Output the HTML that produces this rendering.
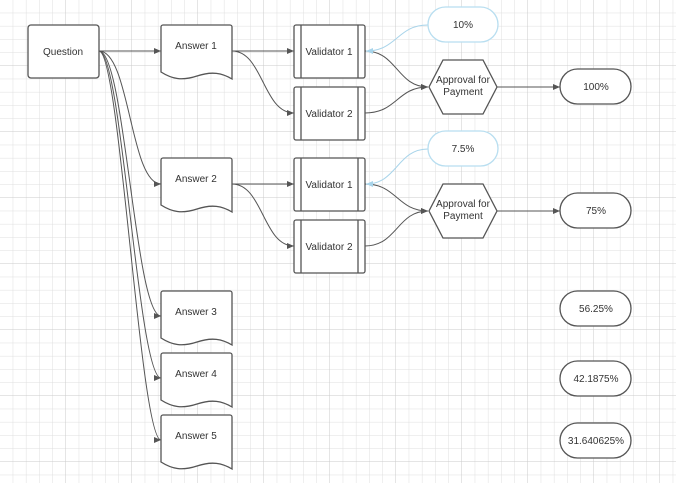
<!DOCTYPE html>
<html><head><style>
html,body{margin:0;padding:0;background:#fff}
svg text{font-family:"Liberation Sans",sans-serif;font-size:10px;fill:#333;text-anchor:middle}
</style></head><body>
<svg width="676" height="483" xmlns="http://www.w3.org/2000/svg">
<defs>
<pattern id="g" width="13.2" height="13.2" patternUnits="userSpaceOnUse"><path d="M13.2 0V13.2H0" fill="none" stroke="#dedede" stroke-width="1"/></pattern>
<pattern id="G" width="66" height="66" patternUnits="userSpaceOnUse" x="0" y="0"><path d="M66 0V66H0" fill="none" stroke="#cbcbcb" stroke-width="1"/></pattern>
<marker id="a" markerWidth="8" markerHeight="8" refX="7" refY="4" orient="auto" markerUnits="userSpaceOnUse"><path d="M0 1L7 4L0 7z" fill="#555"/></marker>
<marker id="b" markerWidth="8" markerHeight="8" refX="7" refY="4" orient="auto" markerUnits="userSpaceOnUse"><path d="M0 1L7 4L0 7z" fill="#a8d4ea"/></marker>
</defs>
<rect width="676" height="483" fill="url(#g)"/>
<rect width="676" height="483" fill="url(#G)"/>
<g fill="none" stroke="#555" stroke-width="1" marker-end="url(#a)">
<path d="M99 51H161"/>
<path d="M99 51C130 51 130 184 161 184"/>
<path d="M99 51C125 51 135 316 161 316"/>
<path d="M99 51C122 51 138 378 161 378"/>
<path d="M99 51C120 51 140 440 161 440"/>
<path d="M232 51H294"/><path d="M232 51C263 51 263 113 294 113"/>
<path d="M232 184H294"/><path d="M232 184C263 184 263 246 294 246"/>
<path d="M365 51C397 51 397 87 428 87"/><path d="M365 113C397 113 397 87 428 87"/>
<path d="M365 184C397 184 397 211 428 211"/><path d="M365 246C397 246 397 211 428 211"/>
<path d="M497 87H560"/><path d="M497 211H560"/>
</g>
<g fill="none" stroke="#a8d4ea" stroke-width="1" marker-end="url(#b)">
<path d="M428 25C397 25 397 51 366 51"/><path d="M428 149C397 149 397 184 366 184"/>
</g>
<g fill="#fff" stroke="#555" stroke-width="1.3">
<rect x="28" y="25" width="71" height="53" rx="3"/>
<path d="M161 27a2 2 0 0 1 2-2h67a2 2 0 0 1 2 2v52c-10-6-20-8-35-3s-25 3-36-4z"/>
<path d="M161 160a2 2 0 0 1 2-2h67a2 2 0 0 1 2 2v52c-10-6-20-8-35-3s-25 3-36-4z"/>
<path d="M161 293a2 2 0 0 1 2-2h67a2 2 0 0 1 2 2v52c-10-6-20-8-35-3s-25 3-36-4z"/>
<path d="M161 355a2 2 0 0 1 2-2h67a2 2 0 0 1 2 2v52c-10-6-20-8-35-3s-25 3-36-4z"/>
<path d="M161 417a2 2 0 0 1 2-2h67a2 2 0 0 1 2 2v52c-10-6-20-8-35-3s-25 3-36-4z"/>
<rect x="294" y="25" width="71" height="53" rx="2"/><rect x="294" y="87" width="71" height="53" rx="2"/>
<rect x="294" y="158" width="71" height="53" rx="2"/><rect x="294" y="220" width="71" height="53" rx="2"/>
<path d="M301 25v53M358 25v53M301 87v53M358 87v53M301 158v53M358 158v53M301 220v53M358 220v53"/>
<path d="M443 60h40l14 27-14 27h-40l-14-27z"/>
<path d="M443 184h40l14 27-14 27h-40l-14-27z"/>
<rect x="560" y="69" width="71" height="35" rx="17.5"/>
<rect x="560" y="193" width="71" height="35" rx="17.5"/>
<rect x="560" y="291" width="71" height="35" rx="17.5"/>
<rect x="560" y="361" width="71" height="35" rx="17.5"/>
<rect x="560" y="423" width="71" height="35" rx="17.5"/>
</g>
<g fill="#fff" stroke="#b8def0" stroke-width="1.3">
<rect x="428" y="7" width="70" height="35" rx="17.5"/>
<rect x="428" y="131" width="70" height="35" rx="17.5"/>
</g>
<text x="63" y="55">Question</text>
<text x="196" y="49">Answer 1</text><text x="196" y="182">Answer 2</text>
<text x="196" y="315">Answer 3</text><text x="196" y="377">Answer 4</text><text x="196" y="439">Answer 5</text>
<text x="329" y="55">Validator 1</text><text x="329" y="117">Validator 2</text>
<text x="329" y="188">Validator 1</text><text x="329" y="250">Validator 2</text>
<text x="463" y="28">10%</text><text x="463" y="152">7.5%</text>
<text x="463" y="83">Approval for</text><text x="463" y="95">Payment</text>
<text x="463" y="207">Approval for</text><text x="463" y="219">Payment</text>
<text x="596" y="90">100%</text><text x="596" y="214">75%</text>
<text x="596" y="312">56.25%</text><text x="596" y="382">42.1875%</text><text x="596" y="444">31.640625%</text>
</svg>
</body></html>
